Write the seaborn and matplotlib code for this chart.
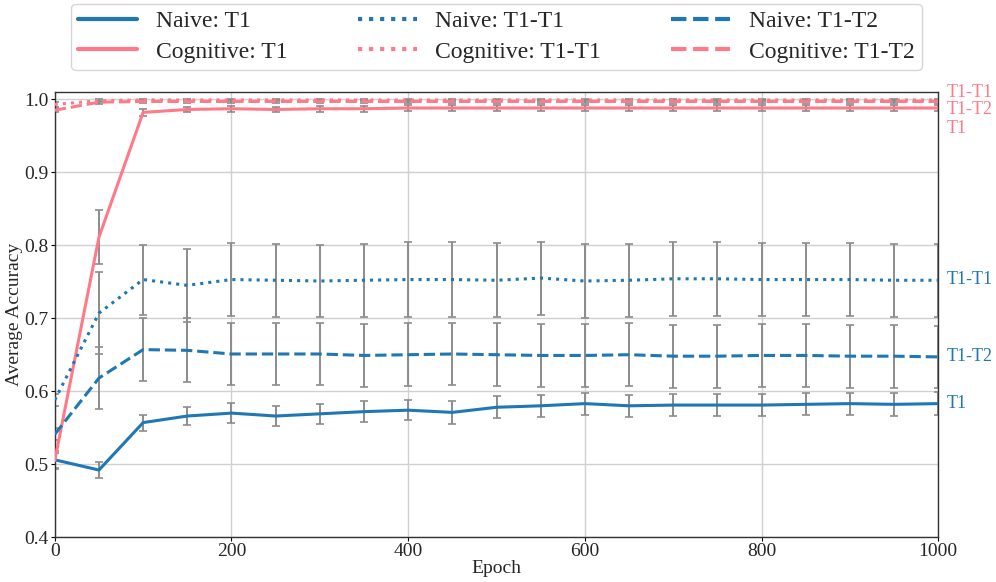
import matplotlib
matplotlib.use("Agg")
import matplotlib.pyplot as plt
import matplotlib.transforms as mtransforms
import seaborn as sns
import pandas as pd
import numpy as np

epochs = list(range(0, 1001, 50))

naive_t1 = [0.506, 0.492, 0.557, 0.566, 0.570, 0.566, 0.569, 0.572, 0.574, 0.571, 0.578,
            0.580, 0.583, 0.580, 0.581, 0.581, 0.581, 0.582, 0.583, 0.582, 0.583]
naive_t1_err = [0.012, 0.011, 0.011, 0.012, 0.014, 0.014, 0.014, 0.014, 0.014, 0.016, 0.015,
                0.015, 0.015, 0.015, 0.015, 0.015, 0.015, 0.015, 0.015, 0.016, 0.016]
naive_t1t1 = [0.588, 0.707, 0.753, 0.745, 0.753, 0.752, 0.751, 0.752, 0.753, 0.753, 0.752,
              0.755, 0.751, 0.752, 0.754, 0.754, 0.753, 0.753, 0.753, 0.752, 0.752]
naive_t1t1_err = [0.008, 0.056, 0.048, 0.050, 0.050, 0.050, 0.050, 0.050, 0.051, 0.051, 0.051,
                  0.050, 0.051, 0.050, 0.051, 0.051, 0.050, 0.050, 0.050, 0.050, 0.050]
naive_t1t2 = [0.541, 0.618, 0.657, 0.656, 0.651, 0.651, 0.651, 0.649, 0.650, 0.651, 0.650,
              0.649, 0.649, 0.650, 0.648, 0.648, 0.649, 0.649, 0.648, 0.648, 0.647]
naive_t1t2_err = [0.008, 0.043, 0.043, 0.044, 0.043, 0.043, 0.043, 0.043, 0.043, 0.043, 0.043,
                  0.043, 0.043, 0.043, 0.043, 0.043, 0.043, 0.043, 0.043, 0.043, 0.043]
cog_t1 = [0.505, 0.811, 0.982, 0.986, 0.987, 0.986, 0.987, 0.987, 0.988, 0.988, 0.988,
          0.988, 0.988, 0.988, 0.988, 0.988, 0.988, 0.988, 0.988, 0.988, 0.988]
cog_t1_err = [0.010, 0.037, 0.005, 0.004, 0.004, 0.004, 0.004, 0.004, 0.004, 0.004, 0.004,
              0.004, 0.004, 0.004, 0.004, 0.004, 0.004, 0.004, 0.004, 0.004, 0.004]
cog_t1t1 = [0.993, 0.998, 0.999, 0.999, 0.999, 0.999, 0.999, 0.999, 0.999, 0.999, 0.999,
            0.999, 0.999, 0.999, 0.999, 0.999, 0.999, 0.999, 0.999, 0.999, 0.999]
cog_t1t1_err = [0.003] + [0.002] * 20
cog_t1t2 = [0.985, 0.996, 0.997, 0.997, 0.997, 0.997, 0.997, 0.997, 0.997, 0.997, 0.997,
            0.997, 0.997, 0.997, 0.997, 0.997, 0.997, 0.997, 0.997, 0.997, 0.997]
cog_t1t2_err = [0.003] + [0.002] * 20

tasks = ["T1", "T1-T1", "T1-T2"]
groups = ["Naive", "Cognitive"]
right_label_y = {"Naive": [0.583, 0.753, 0.648], "Cognitive": [0.960, 1.009, 0.986]}

series = {
    ("Naive", "T1"): (naive_t1, naive_t1_err),
    ("Naive", "T1-T1"): (naive_t1t1, naive_t1t1_err),
    ("Naive", "T1-T2"): (naive_t1t2, naive_t1t2_err),
    ("Cognitive", "T1"): (cog_t1, cog_t1_err),
    ("Cognitive", "T1-T1"): (cog_t1t1, cog_t1t1_err),
    ("Cognitive", "T1-T2"): (cog_t1t2, cog_t1t2_err),
}

colors = {"Naive": "#1f77b4", "Cognitive": "#ff7a88"}
styles = {"T1": "-", "T1-T1": ":", "T1-T2": "--"}

sns.set_style("whitegrid")
plt.rcParams["font.family"] = ["Liberation Serif", "DejaVu Serif"]

fig = plt.figure(figsize=(9.96, 5.82), dpi=100)
ax = fig.add_axes([0.055, 0.077, 0.887, 0.765])

for (g, t), (vals, errs) in series.items():
    ax.errorbar(epochs, vals, yerr=errs, fmt="none", ecolor="#8c8c8c",
                elinewidth=1.4, capsize=3, capthick=1.2, zorder=2)

for t in tasks:
    for g in groups:
        vals, errs = series[(g, t)]
        df = pd.DataFrame({"Epoch": epochs, "Acc": vals})
        sns.lineplot(data=df, x="Epoch", y="Acc", ax=ax, color=colors[g],
                     linestyle=styles[t], linewidth=2.2, zorder=3,
                     label=f"{g}: {t}")

trans = mtransforms.blended_transform_factory(ax.transAxes, ax.transData)
for g in groups:
    for t, yv in zip(tasks, right_label_y[g]):
        ax.text(1.01, yv, t, transform=trans, color=colors[g], fontsize=13,
                va="center", ha="left")

ax.set_xlim(0, 1000)
ax.set_ylim(0.4, 1.01)
ax.set_xticks([0, 200, 400, 600, 800, 1000])
ax.set_yticks([0.4, 0.5, 0.6, 0.7, 0.8, 0.9, 1.0])
ax.tick_params(axis="both", labelsize=14, length=3, pad=1.5, direction="out",
               color="black", left=True, bottom=True)
ax.set_xlabel("Epoch", fontsize=14, labelpad=0)
ax.set_ylabel("Average Accuracy", fontsize=14, labelpad=1)
ax.grid(True, color="#d0d0d0", linewidth=1.0)
for s in ax.spines.values():
    s.set_color("#333333")
    s.set_linewidth(1.0)

h, l = ax.get_legend_handles_labels()
leg = ax.legend(h, l, ncol=3, loc="lower center", bbox_to_anchor=(0.5, 1.05),
                borderaxespad=0.0,
                fontsize=17, frameon=True, handlelength=2.5, columnspacing=2.95,
                borderpad=0.3, labelspacing=0.38, handletextpad=0.8, fancybox=True)
for line in leg.get_lines():
    line.set_linewidth(3)

fig.savefig("out.png", dpi=100)
